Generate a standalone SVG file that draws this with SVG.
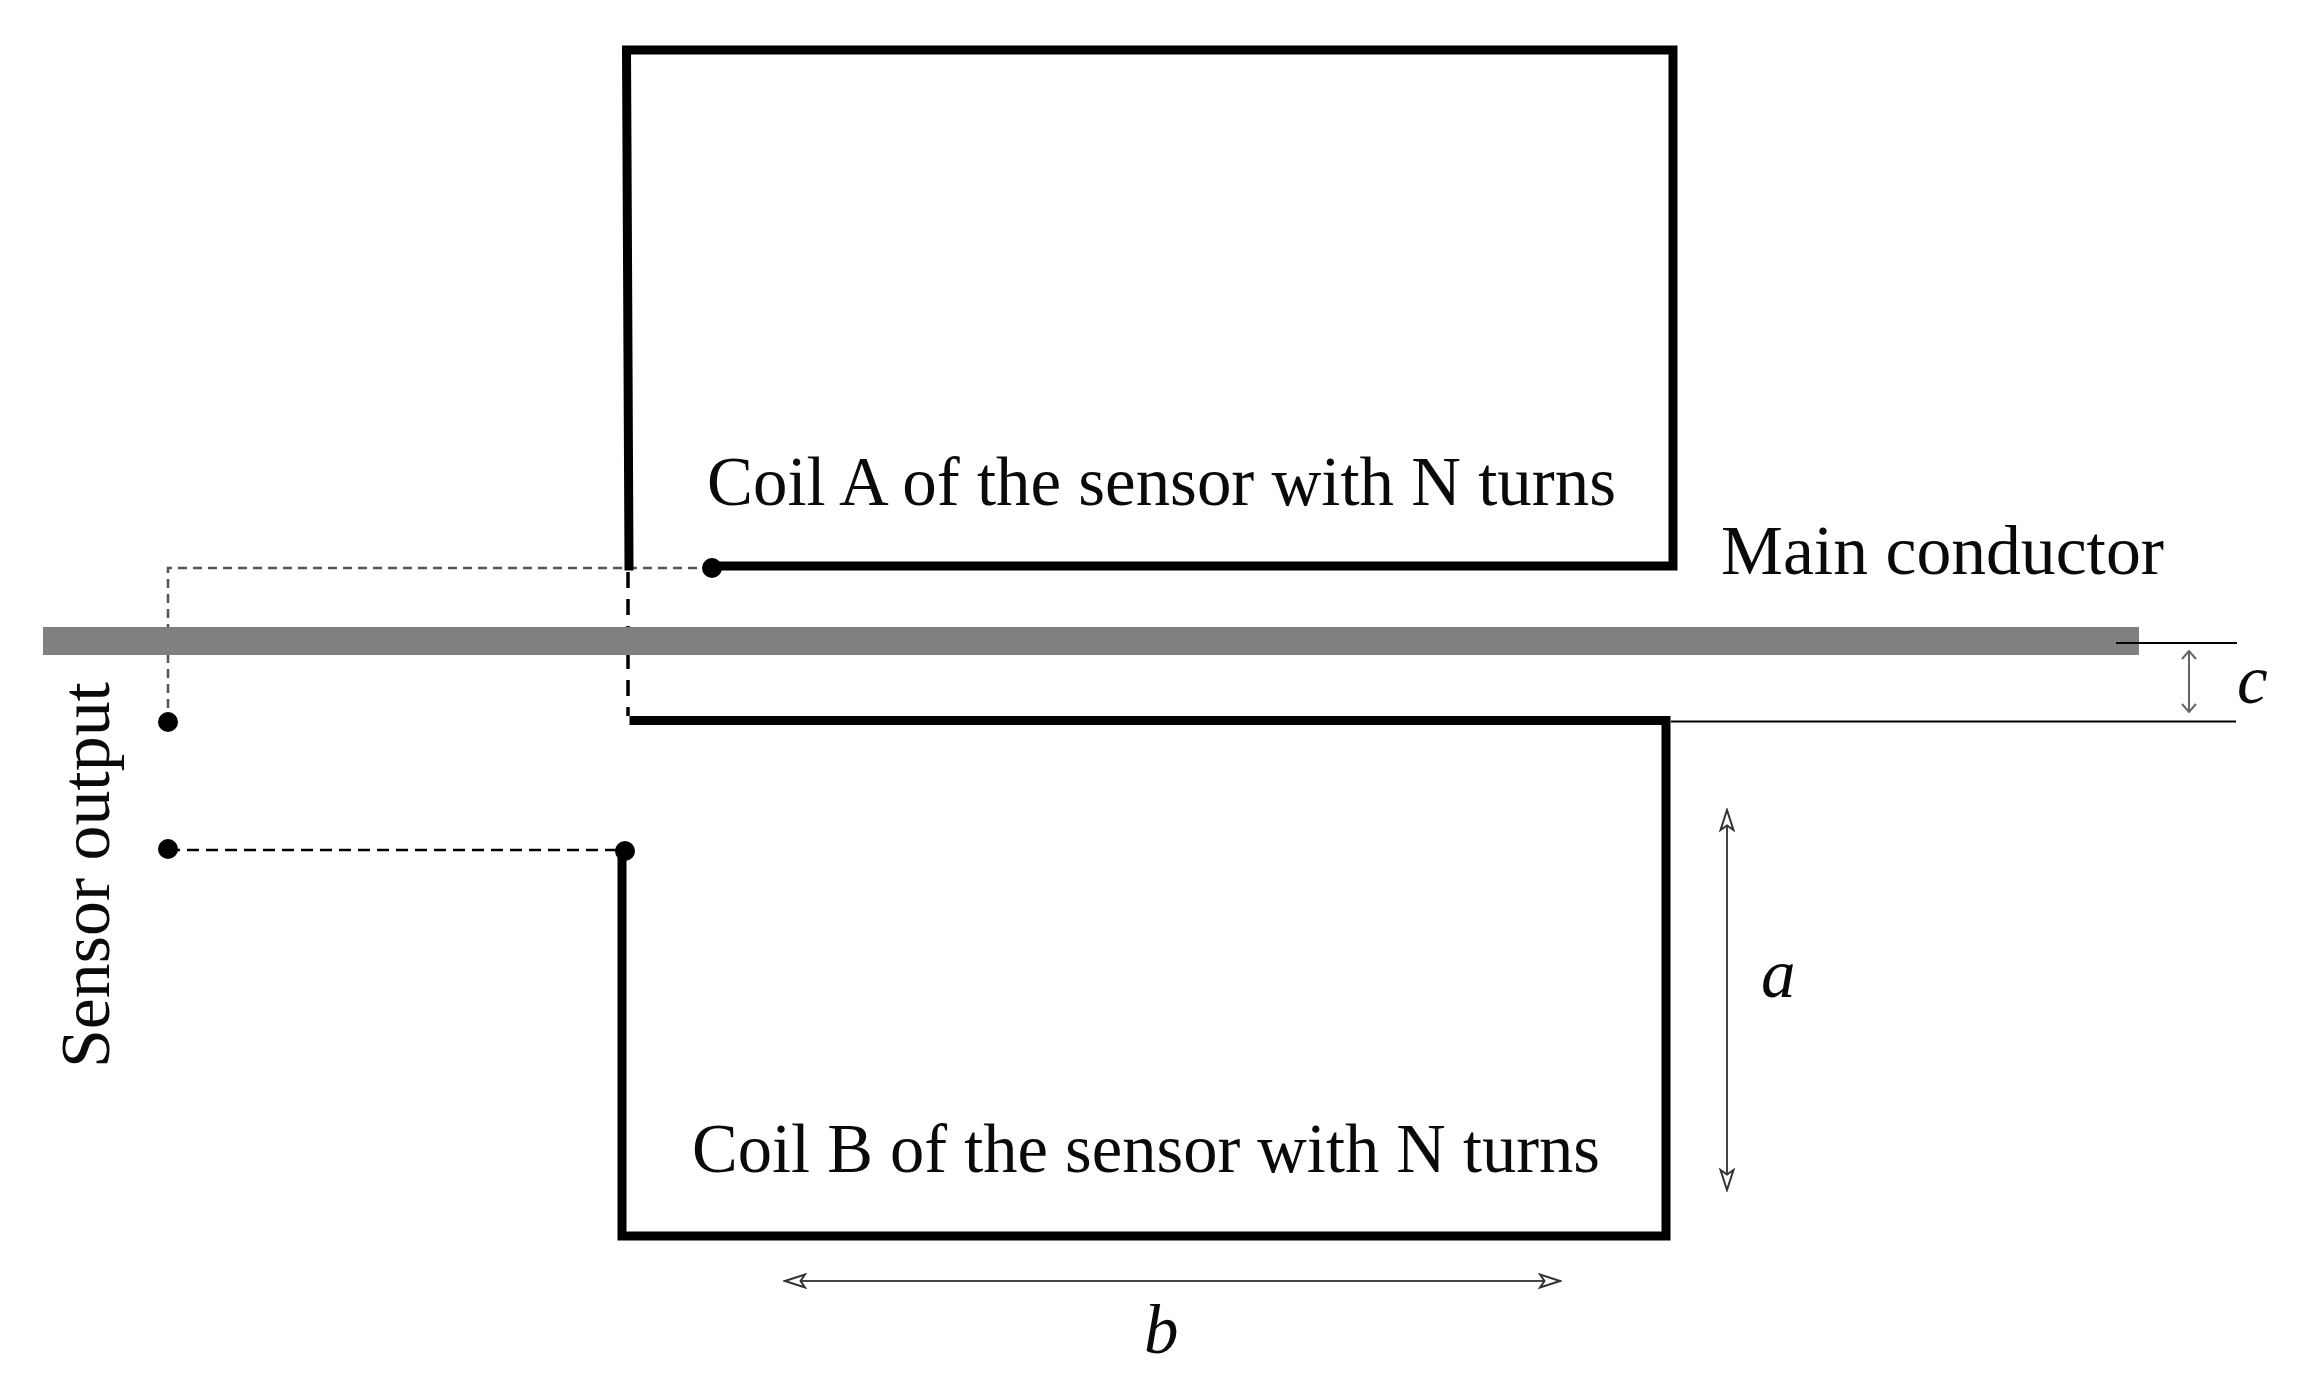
<svg xmlns="http://www.w3.org/2000/svg" width="2299" height="1388" viewBox="0 0 2299 1388">
<style>
.t{font-family:"Liberation Serif","Times New Roman",serif;font-size:69px;fill:#0a0a0a}
.i{font-style:italic}
.coil{fill:none;stroke:#000;stroke-width:9;stroke-linejoin:miter;stroke-linecap:square}
.dash{fill:none;stroke:#000;stroke-width:3.5;stroke-dasharray:16 11}
.thin{fill:none;stroke:#000;stroke-width:2}
.dim{fill:none;stroke:#444;stroke-width:2;marker-start:url(#h);marker-end:url(#h)}
.dimc{fill:none;stroke:#666;stroke-width:2;marker-start:url(#k);marker-end:url(#k)}
</style>
<defs>
<marker id="h" viewBox="0 0 24 16" refX="22" refY="8" markerWidth="24" markerHeight="16" markerUnits="userSpaceOnUse" orient="auto-start-reverse">
<path d="M22 8L2 1.500L6.500 8L2 14.500Z" fill="#fff" stroke="#333" stroke-width="2"/>
</marker>
<marker id="k" viewBox="0 0 10 16" refX="9" refY="8" markerWidth="10" markerHeight="16" markerUnits="userSpaceOnUse" orient="auto-start-reverse">
<path d="M1 1L9 8L1 15" fill="none" stroke="#666" stroke-width="2"/>
</marker>
</defs>
<rect width="2299" height="1388" fill="#fff"/>
<g id="connectors">
<path class="dash" d="M628 572V716" />
<path class="dash" style="stroke:#555;stroke-width:2.500;stroke-dasharray:9 6" d="M712 568H168V722"/>
<path class="dash" style="stroke-width:2.500;stroke-dasharray:12 7" d="M168 850H625"/>
<path class="thin" d="M1671 721.500H2236"/>
<path class="dim" d="M1727 810V1190"/>
<path class="dim" d="M785 1281H1560"/>
<path class="dimc" d="M2189 651V712"/>
</g>
<g id="main-conductor">
<rect x="43" y="627" width="2096" height="28" fill="#808080"/>
<path class="thin" d="M2116 643H2237"/>
<text class="t" x="1721" y="574" textLength="443" lengthAdjust="spacingAndGlyphs">Main conductor</text>
</g>
<g id="coil-a">
<path class="coil" d="M712 566H1673V50H626.500L629 566"/>
<circle cx="712" cy="568" r="10"/>
<text class="t" x="707" y="505" textLength="909" lengthAdjust="spacingAndGlyphs">Coil A of the sensor with N turns</text>
</g>
<g id="coil-b">
<path class="coil" d="M634 720.500H1666V1236H622V850"/>
<circle cx="625" cy="851" r="10"/>
<text class="t" x="692" y="1172" textLength="908" lengthAdjust="spacingAndGlyphs">Coil B of the sensor with N turns</text>
</g>
<g id="sensor-output">
<circle cx="168" cy="722" r="10"/>
<circle cx="168" cy="849" r="10"/>
<text class="t" transform="translate(109 1068) rotate(-90)" textLength="386" lengthAdjust="spacingAndGlyphs">Sensor output</text>
</g>
<g id="dimension-labels">
<text class="t i" x="1761" y="997">a</text>
<text class="t i" x="1144" y="1353">b</text>
<text class="t i" x="2237" y="703">c</text>
</g>
</svg>
